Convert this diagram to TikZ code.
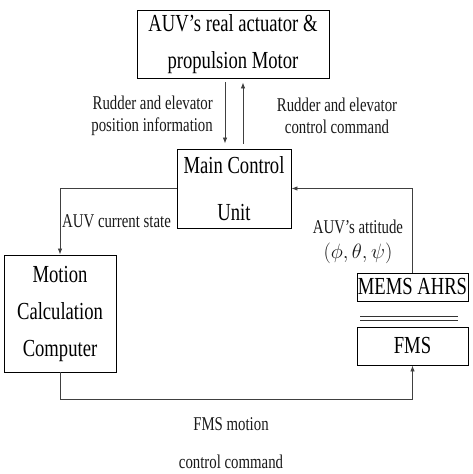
\documentclass[tikz,border=0pt]{standalone}
\usepackage{fontspec}
\setmainfont[FakeStretch=0.76]{Liberation Serif}
\usetikzlibrary{arrows.meta}

\tikzset{
    caja/.style={draw=black, line width=0.9pt, inner sep=0pt, align=center,
        font=\fontsize{24.5}{37}\selectfont},
    etiqueta/.style={inner sep=0pt, align=center, text=black!90,
        font=\fontsize{19.5}{22}\selectfont},
    flecha/.style={draw=black!75, line width=0.8pt, -{Latex[length=6pt,width=4.5pt]}}
}

\begin{document}
\begin{tikzpicture}[x=1pt, y=-1pt]
    \useasboundingbox (0,0) rectangle (472,474);
    %------------Cajas----------
    \node[caja, minimum width=192pt, minimum height=68pt] (act) at (233,44) {AUV’s real actuator \&\\propulsion Motor};
    \node[caja, minimum width=114pt, minimum height=79pt] (mcu) at (234,188.5) {Main Control\\[10pt]Unit};
    \node[caja, minimum width=112pt, minimum height=117pt] (mcc) at (60,313.5) {Motion\\Calculation\\Computer};
    \node[caja, minimum width=111pt, minimum height=28pt] (mems) at (412.5,287) {MEMS AHRS};
    \node[caja, minimum width=111pt, minimum height=38pt] (fms) at (412.5,346) {FMS};
    \foreach \y in {316.5,320} {
        \draw[black!80, line width=0.9pt] (360,\y) -- (458,\y);
    }
    %-----------Flechas----------
    \draw[flecha, shorten <=4pt, shorten >=5pt] ([xshift=-8pt]act.south) -- ([xshift=-8pt]act.south |- mcu.north);
    \draw[flecha, shorten <=5pt, shorten >=4pt] ([xshift=10pt]act.south |- mcu.north) -- ([xshift=10pt]act.south);
    \draw[flecha] (mcu.west) -| (mcc.north);
    \draw[flecha] (mems.north) |- (mcu.east);
    \draw[flecha] (mcc.south) -- ++(0,27) -| (fms.south);
    %-----------Etiquetas--------
    \node[etiqueta, align=right, anchor=east] (posinfo) at (213,116) {Rudder and elevator\\position information};
    \node[etiqueta] (ctrlcmd) at (337,116) {Rudder and elevator\\control command};
    \node[etiqueta, anchor=west] (state) at (62,221) {AUV current state};
    \node[etiqueta] (att) at (358,242) {AUV’s attitude\\[3pt]$(\phi,\theta,\psi)$};
    \node[etiqueta, font=\fontsize{19.5}{38}\selectfont] (fmscmd) at (231,443) {FMS motion\\control command};
\end{tikzpicture}
\end{document}
